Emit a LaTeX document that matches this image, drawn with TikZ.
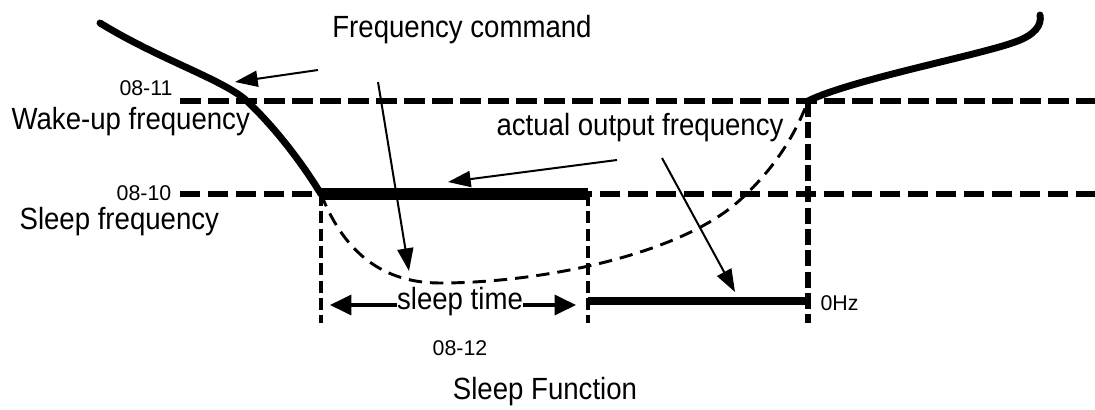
\documentclass[tikz,border=0pt]{standalone}
\usepackage{fontspec}
\setmainfont[FakeStretch=0.9]{Liberation Sans}
\newfontfamily\numfont{Liberation Sans}
\usetikzlibrary{arrows.meta}
\begin{document}
\begin{tikzpicture}[x=0.75pt,y=-0.75pt,
  wakelvl/.style={line width=4.4pt, dash pattern=on 15.5pt off 5.5pt},
  sleeplvl/.style={line width=3.8pt, dash pattern=on 15pt off 6pt},
  vdash/.style={line width=3.6pt, dash pattern=on 9pt off 4pt},
  vdashb/.style={line width=5pt, dash pattern=on 12pt off 4pt},
  cmdcurve/.style={line width=5.2pt, line cap=round},
  outcurve/.style={line width=2.2pt, dash pattern=on 10pt off 6pt},
  pointer/.style={line width=1.5pt, -{Triangle[length=17pt,width=12pt]}},
  dimarrow/.style={line width=2.4pt, {Triangle[length=16pt,width=15pt]}-{Triangle[length=16pt,width=15pt]}},
  big/.style={font=\fontsize{23}{26}\selectfont, inner sep=1pt},
  small/.style={font=\numfont\fontsize{16}{18}\selectfont, inner sep=1pt}]
\useasboundingbox (0,0) rectangle (1095,410);

% labels
\node[small] (p11) at (146,88) {08-11};
\node[big, anchor=west] (wake) at (10,122) {Wake-up frequency};
\node[small] (p10) at (144,193) {08-10};
\node[big, anchor=west] (sleepf) at (18,222) {Sleep frequency};
\node[big] (fcmd) at (462,30) {Frequency command};
\node[big] (aof) at (640,128) {actual output frequency};
\node[small, anchor=west] (zero) at (819,303) {0Hz};
\node[small] (p12) at (460,348) {08-12};
\node[big] (title) at (545,392) {Sleep Function};

% key coordinates
\coordinate (wl) at (180,101);
\coordinate (wr) at (1095,101);
\coordinate (sl) at (180,194);
\coordinate (sr) at (1095,194);
\coordinate (a) at (321,194);
\coordinate (b) at (588,194);
\coordinate (c) at (808,101);
\coordinate (a0) at (321,323);
\coordinate (b0) at (588,323);
\coordinate (c0) at (808,323);
\coordinate (bz) at (588,301);
\coordinate (cz) at (808,301);

% reference levels
\draw[wakelvl] (wl) -- (wr);
\draw[sleeplvl] (sl) -- (sr);

% vertical markers
\draw[vdash] (a) -- (a0);
\draw[vdash] (b) -- (b0);
\draw[vdashb] (c) -- (c0);

% actual output (dashed)
\draw[outcurve] (a) .. controls (345,255) and (385,283) .. (440,283)
  .. controls (540,283) and (680,255) .. (740,200)
  .. controls (775,168) and (795,135) .. (c);

% frequency command
\draw[cmdcurve] (100,23) .. controls (160,60) and (225,80) .. (248,102)
  .. controls (275,128) and (300,160) .. (a);
\draw[line width=8.5pt] (a) -- (b);
\draw[line width=6pt] (bz) -- (cz);
\draw[cmdcurve] (c) .. controls (850,80) and (980,55) .. (1015,42)
  .. controls (1035,35) and (1042,25) .. (1040,15);

% sleep time
\draw[dimarrow] (330,305) -- (576,305);
\node[big, fill=white, inner sep=0pt] (st) at (460,302) {sleep time};

% pointers
\coordinate (t1) at (235,82);
\coordinate (t2) at (409,271);
\coordinate (t3) at (448,182);
\coordinate (t4) at (735,292);
\draw[pointer] (318,70) -- (t1);
\draw[pointer] (378,82) -- (t2);
\draw[pointer] (617,160) -- (t3);
\draw[pointer] (662,158) -- (t4);
\end{tikzpicture}
\end{document}
